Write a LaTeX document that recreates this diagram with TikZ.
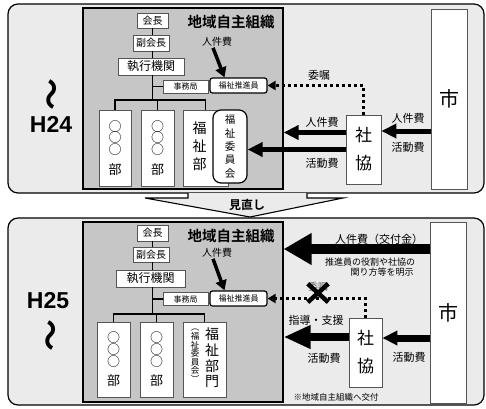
\documentclass[tikz,border=0pt]{standalone}
\usepackage{fontspec}
\setmainfont{Noto Sans CJK JP}[BoldFont={Noto Sans CJK JP Bold}]
\newfontfamily\hfont{Liberation Sans}
\usetikzlibrary{arrows.meta,shapes.misc}
\definecolor{panelgray}{HTML}{EBEBEB}
\definecolor{orggray}{HTML}{C6C6C6}
\definecolor{boxline}{HTML}{555555}
\tikzset{
  panel/.style={draw=black, line width=1.2pt, fill=panelgray, rounded corners=10pt, inner sep=0pt},
  orgbox/.style={draw=black, line width=1.2pt, fill=orggray, inner sep=0pt},
  wbox/.style={draw=boxline, line width=0.8pt, fill=white, inner sep=0pt},
  rbox/.style={draw=black, line width=1.2pt, fill=white, inner sep=0pt, rounded corners=2.5pt},
  orgline/.style={draw=black, line width=1.4pt},
  fs/.style={font=\fontsize{#1}{#1}\selectfont},
  lbl/.style={inner sep=0pt, font=\fontsize{11}{13}\selectfont},
  slbl/.style={inner sep=0pt, font=\fontsize{10}{12}\selectfont},
  vtext/.style={inner sep=0pt, align=center},
  wave/.style={rotate=-90, inner sep=0pt, font=\bfseries\fontsize{32}{32}\selectfont},
  circ/.style={font=\fontsize{13}{11.7}\selectfont},
  arrA/.style={line width=5pt, -{Triangle[length=15pt,width=14pt]}},
  arrS/.style={line width=3.5pt, -{Triangle[length=10pt,width=11pt]}},
  arrBig/.style={line width=10pt, -{Triangle[length=28pt,width=30pt]}},
  arrMid/.style={line width=8pt, -{Triangle[length=27pt,width=22pt]}},
  arrSm/.style={line width=7pt, -{Triangle[length=15pt,width=14pt]}},
  dotarrow/.style={line width=2.8pt, dash pattern=on 3pt off 3pt, -{Triangle[length=8pt,width=9pt]}},
}
\begin{document}
\begin{tikzpicture}[x=1pt,y=-1pt]
\useasboundingbox (0,0) rectangle (486,408);

% ================= TOP (H24) =================
\node[panel, minimum width=476pt, minimum height=189pt] (panelA) at (246,98.5) {};
\node[orgbox, minimum width=200pt, minimum height=181pt] (orgA) at (183,98.5) {};
\node[wbox, minimum width=36pt, minimum height=180pt, fs=20] (shiA) at (449,99) {市};
\node[wbox, minimum width=35pt, minimum height=69pt, vtext, font=\fontsize{17}{28}\selectfont] (shakyoA) at (363.5,149.5) {社\\協};

\node[wave] (waveA) at (48,94) {〜};
\node[inner sep=0pt, font=\hfont\bfseries\fontsize{23}{23}\selectfont] (h24) at (51,124) {H24};

\node[wbox, minimum width=31pt, minimum height=15pt, fs=10] (kaichoA) at (152.5,20.5) {会長};
\node[inner sep=0pt, font=\bfseries\fontsize{14.5}{15}\selectfont] (titleA) at (231,22) {地域自主組織};
\node[wbox, minimum width=36pt, minimum height=16pt, fs=10] (fukuA) at (151,43) {副会長};
\node[wbox, minimum width=66pt, minimum height=17pt, fs=12] (shikkoA) at (151,66.5) {執行機関};
\node[wbox, minimum width=45pt, minimum height=13pt, fs=8] (jimuA) at (185.5,86.5) {事務局};
\node[rbox, minimum width=57pt, minimum height=15pt, fs=8] (suishinA) at (238.5,85.5) {福祉推進員};
\coordinate (barA) at (152.5,100);

\draw[orgline] (kaichoA.south) -- (kaichoA.south |- fukuA.north);
\draw[orgline] (kaichoA.south |- fukuA.south) -- (kaichoA.south |- shikkoA.north);
\draw[orgline] (kaichoA.south |- shikkoA.south) -- (barA);
\draw[orgline] (jimuA.west) -- (kaichoA.south |- jimuA.west);

\node[wbox, minimum width=32pt, minimum height=76pt, vtext, circ] (dept1A) at (115,148) {○\\○\\○\\[7pt]部};
\node[wbox, minimum width=33pt, minimum height=76pt, vtext, circ] (dept2A) at (157.5,148) {○\\○\\○\\[7pt]部};
\node[wbox, minimum width=45pt, minimum height=76pt] (dept3A) at (205.5,148) {};
\node[vtext, font=\fontsize{14}{18}\selectfont] (fukushibuA) at (199.5,146) {福\\祉\\部};
\node[draw=black, line width=1.2pt, fill=white, rounded corners=8pt, minimum width=34pt, minimum height=73pt, vtext, font=\fontsize{10.5}{13.3}\selectfont] (iinA) at (230,146.5) {福\\祉\\委\\員\\会};

\draw[orgline] (dept1A.north) -- (dept1A.north |- barA) -- (dept3A.north |- barA) -- (dept3A.north);
\draw[orgline] (dept2A.north) -- (dept2A.north |- barA);

% arrows top
\node[slbl] (jinA) at (217,42) {人件費};
\draw[arrS] ([xshift=-4pt,yshift=-1pt]jinA.south) -- ([xshift=-14pt]suishinA.north);

\node[lbl] (ishokuA) at (319,75) {委嘱};
\draw[dotarrow] (shakyoA.north) |- (suishinA.east);

\coordinate (a1) at ([yshift=17pt]shakyoA.west);
\draw[arrA] (a1) -- (a1 -| orgA.east);
\coordinate (a2) at (shakyoA.west);
\draw[arrA] (a2) -- (a2 -| iinA.east);
\node[lbl] (jinA2) at (322,122) {人件費};
\node[lbl] (katsuA2) at (322,163) {活動費};

\coordinate (a3) at ([yshift=18.5pt]shakyoA.east);
\draw[arrA] (a3 -| shiA.west) -- (a3);
\node[lbl] (jinA3) at (408,118) {人件費};
\node[lbl] (katsuA3) at (408,147) {活動費};

% ================= 見直し =================
\filldraw[draw=black, line width=1.1pt, fill=panelgray] (188,193) -- (188,198) -- (145,198) -- (250,217) -- (343,198) -- (307,198) -- (307,193);
\node[inner sep=0pt, font=\bfseries\fontsize{12}{12}\selectfont] (minaoshi) at (247,205) {見直し};

% ================= BOTTOM (H25) =================
\node[panel, minimum width=476pt, minimum height=187pt] (panelB) at (246,311.5) {};
\node[orgbox, minimum width=200pt, minimum height=180pt] (orgB) at (183,312) {};
\node[wbox, minimum width=36pt, minimum height=181pt, fs=20] (shiB) at (448,312.5) {市};
\node[wbox, minimum width=33pt, minimum height=69pt, vtext, font=\fontsize{17}{28}\selectfont] (shakyoB) at (365.5,352.5) {社\\協};

\node[inner sep=0pt, font=\hfont\bfseries\fontsize{23}{23}\selectfont] (h25) at (48,301) {H25};
\node[wave] (waveB) at (47,335) {〜};

\node[wbox, minimum width=31pt, minimum height=16pt, fs=10] (kaichoB) at (152.5,233) {会長};
\node[inner sep=0pt, font=\bfseries\fontsize{14.5}{15}\selectfont] (titleB) at (231,236) {地域自主組織};
\node[wbox, minimum width=36pt, minimum height=15pt, fs=10] (fukuB) at (151,254.5) {副会長};
\node[wbox, minimum width=69pt, minimum height=17pt, fs=12] (shikkoB) at (150.5,278.5) {執行機関};
\node[wbox, minimum width=45pt, minimum height=13pt, fs=8] (jimuB) at (185.5,299) {事務局};
\node[rbox, minimum width=57pt, minimum height=15pt, fs=8] (suishinB) at (238.5,298.5) {福祉推進員};
\coordinate (barB) at (152.5,314);

\draw[orgline] (kaichoB.south) -- (kaichoB.south |- fukuB.north);
\draw[orgline] (kaichoB.south |- fukuB.south) -- (kaichoB.south |- shikkoB.north);
\draw[orgline] (kaichoB.south |- shikkoB.south) -- (barB);
\draw[orgline] (jimuB.west) -- (kaichoB.south |- jimuB.west);

\node[wbox, minimum width=33pt, minimum height=75pt, vtext, circ] (dept1B) at (113.5,359.5) {○\\○\\○\\[7pt]部};
\node[wbox, minimum width=33pt, minimum height=75pt, vtext, circ] (dept2B) at (156.5,359.5) {○\\○\\○\\[7pt]部};
\node[wbox, minimum width=43pt, minimum height=75pt] (dept3B) at (204.5,359.5) {};
\node[vtext, font=\fontsize{14}{15.7}\selectfont] (fukushibumonB) at (212,358) {福\\祉\\部\\門};
\node[vtext, font=\fontsize{8.5}{8.6}\selectfont] (iinB) at (195,356) {︵\\福\\祉\\委\\員\\会\\︶};

\draw[orgline] (dept1B.north) -- (dept1B.north |- barB) -- (dept3B.north |- barB) -- (dept3B.north);
\draw[orgline] (dept2B.north) -- (dept2B.north |- barB);

% arrows bottom
\node[slbl] (jinB) at (217,253) {人件費};
\draw[arrS] ([xshift=-4pt,yshift=-1pt]jinB.south) -- ([xshift=-14pt]suishinB.north);

\coordinate (b1) at (shiB.west |- 0,249);
\draw[arrBig] (b1) -- (b1 -| orgB.east);
\node[lbl] (kofuB) at (379,239) {人件費（交付金）};
\node[inner sep=0pt, align=center, font=\fontsize{9}{10}\selectfont] (noteB1) at (370,262) {推進員の役割や社協の};
\node[inner sep=0pt, font=\fontsize{9}{10}\selectfont] (noteB2) at (382,272) {関り方等を明示};

\node[inner sep=0pt, text=black!60, font=\fontsize{10}{10}\selectfont] (ishokuB) at (318,287) {委嘱};
\draw[dotarrow] (shakyoB.north) |- (suishinB.east);
\node[cross out, draw=black, line width=4.5pt, minimum width=16pt, minimum height=14pt, inner sep=0pt] (xB) at (318,293) {};

\node[lbl] (shidoB) at (316,320) {指導・支援};
\coordinate (b2) at ([yshift=15.5pt]shakyoB.west);
\draw[arrMid] (b2) -- (b2 -| orgB.east);
\node[lbl] (katsuB2) at (324,358) {活動費};

\coordinate (b3) at ([yshift=14.5pt]shakyoB.east);
\draw[arrSm] (b3 -| shiB.west) -- (b3);
\node[lbl] (katsuB3) at (409,357) {活動費};

\node[inner sep=0pt, font=\fontsize{8.5}{9}\selectfont] (footB) at (336,397) {※地域自主組織へ交付};
\end{tikzpicture}
\end{document}
